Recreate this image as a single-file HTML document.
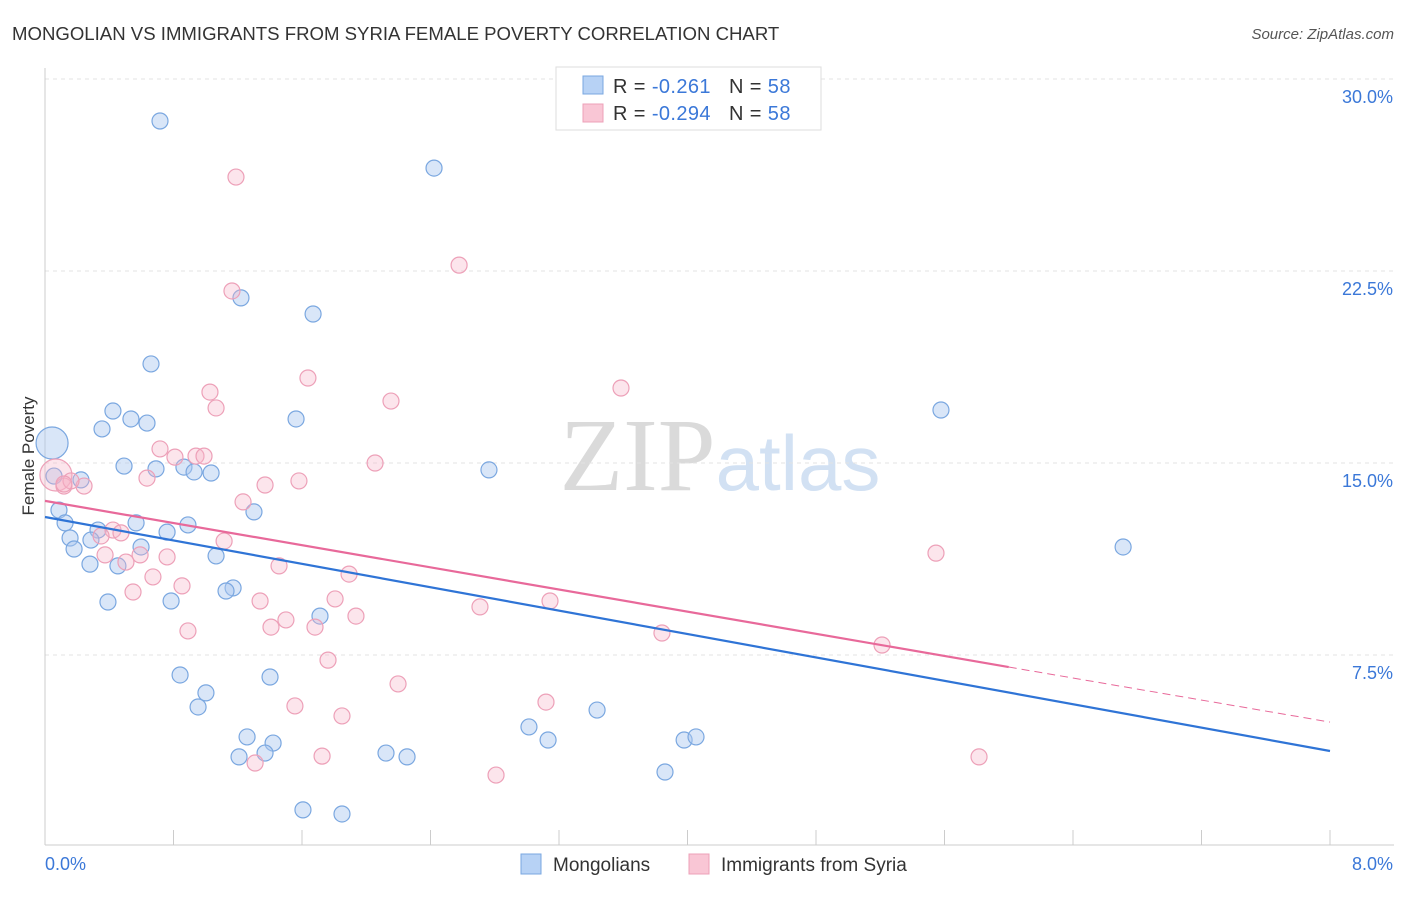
<!DOCTYPE html>
<html><head><meta charset="utf-8"><style>
body{margin:0;background:#fff;font-family:"Liberation Sans",sans-serif}
svg text{font-family:"Liberation Sans",sans-serif}
</style></head><body>
<svg id="chart" width="1406" height="892" xmlns="http://www.w3.org/2000/svg">
<text x="12" y="40" font-size="18.6" fill="#333">MONGOLIAN VS IMMIGRANTS FROM SYRIA FEMALE POVERTY CORRELATION CHART</text>
<text x="1394" y="39" font-size="15" fill="#555" text-anchor="end" font-style="italic">Source: ZipAtlas.com</text>
<text x="720" y="490" font-size="104" text-anchor="middle" fill="#ddd"><tspan font-family="Liberation Serif" fill="#dadada">ZIP</tspan><tspan font-size="78" fill="#d2e1f3">atlas</tspan></text>
<g id="grid"></g><g id="axes"></g><g id="marks"></g>
<text transform="translate(34,456) rotate(-90)" font-size="17" fill="#333" text-anchor="middle">Female Poverty</text>
<g>
<rect x="556" y="67" width="265" height="63" fill="#fff" stroke="#ddd"/>
<rect x="583" y="76" width="20" height="18" fill="#b7d2f5" stroke="#7aa7e0"/>
<rect x="583" y="104" width="20" height="18" fill="#f9c6d5" stroke="#eda0b8"/>
<text x="613" y="93" font-size="20" fill="#333" letter-spacing="0.4">R = <tspan fill="#3b78d8">-0.261</tspan><tspan dx="18">N = </tspan><tspan fill="#3b78d8">58</tspan></text>
<text x="613" y="120" font-size="20" fill="#333" letter-spacing="0.4">R = <tspan fill="#3b78d8">-0.294</tspan><tspan dx="18">N = </tspan><tspan fill="#3b78d8">58</tspan></text>
</g>
<g>
<rect x="521" y="854" width="20" height="20" fill="#b7d2f5" stroke="#7aa7e0"/>
<text x="553" y="871" font-size="19" fill="#333">Mongolians</text>
<rect x="689" y="854" width="20" height="20" fill="#f9c6d5" stroke="#eda0b8"/>
<text x="721" y="871" font-size="19" fill="#333">Immigrants from Syria</text>
</g>
</svg>
<script>
const yTicks=[7.5,15.0,22.5,30.0];
const yTickLabels=["7.5%","15.0%","22.5%","30.0%"];
const xTickCount=10;
const blueX=[0.716,2.422,1.220,1.669,0.660,0.423,0.535,0.635,1.563,0.355,5.578,0.044,0.492,0.691,0.865,0.928,1.034,2.764,0.224,0.087,1.301,0.125,0.567,0.890,0.330,0.760,0.156,0.286,0.598,0.181,1.065,0.280,0.454,6.712,1.171,1.127,0.392,0.785,1.712,0.841,1.401,1.002,0.953,3.437,3.013,1.258,3.132,1.420,3.979,4.053,1.370,1.208,2.123,2.254,3.860,1.606,1.849,0.056];
const blueY=[28.36,26.52,21.45,20.82,18.87,17.03,16.72,16.56,16.72,16.33,17.07,15.78,14.88,14.77,14.84,14.65,14.61,14.73,14.34,13.16,13.09,12.66,12.66,12.58,12.38,12.30,12.07,11.99,11.72,11.64,11.37,11.05,10.98,11.72,10.12,10.00,9.57,9.61,9.02,6.72,6.64,6.02,5.47,5.35,4.69,4.30,4.18,4.06,4.18,4.30,3.67,3.52,3.67,3.52,2.93,1.45,1.29,14.49];
const pinkX=[1.189,2.578,1.164,1.637,3.586,1.027,2.154,1.065,0.716,0.809,0.940,0.990,2.055,0.635,1.581,1.370,0.068,0.118,0.243,1.233,0.162,0.423,0.473,0.349,1.115,0.374,0.504,0.592,0.760,1.457,5.547,0.672,0.853,1.893,0.548,1.339,1.806,2.708,3.144,1.500,1.407,1.681,1.936,0.890,3.841,5.211,1.762,2.198,1.556,3.119,1.849,1.308,1.725,2.808,5.815,0.118];
const pinkY=[26.17,22.73,21.72,18.32,17.93,17.77,17.42,17.15,15.55,15.23,15.27,15.27,15.00,14.41,14.30,14.14,14.53,14.10,14.10,13.48,14.30,12.38,12.27,12.15,11.95,11.41,11.13,11.41,11.33,10.98,11.48,10.55,10.20,10.66,9.96,9.61,9.69,9.38,9.61,8.87,8.59,8.59,9.02,8.44,8.36,7.89,7.30,6.37,5.51,5.66,5.12,3.28,3.55,2.81,3.52,14.18];
const blueBig=[11];const pinkBig=[16];
const blueTrend=[12.89,3.75];
const pinkTrend=[13.52,7.03,4.88];const pinkSolidEnd=6.0;
const NS="http://www.w3.org/2000/svg";
const X0=45,X1=1330,YB=847,PPU=192/7.5;
const sx=v=>X0+(v/8)*(X1-X0), sy=v=>YB-v*PPU;
function mk(t,a,p){const e=document.createElementNS(NS,t);for(const k in a)e.setAttribute(k,a[k]);document.getElementById(p).appendChild(e);return e;}
yTicks.forEach((t,i)=>{
 const l=mk('line',{x1:X0,x2:1394,y1:sy(t),y2:sy(t),stroke:'#e3e3e3','stroke-dasharray':'4,4'},'grid');
 
 
 const tx=mk('text',{x:1393,y:sy(t)+24,'font-size':18,fill:'#3b78d8','text-anchor':'end'},'axes');
 tx.textContent=yTickLabels[i];
 
 
});
let a=mk('line',{x1:X0,x2:X0,y1:68,y2:845,stroke:'#ccc'},'axes');

a=mk('line',{x1:X0,x2:1394,y1:845,y2:845,stroke:'#ccc'},'axes');

for(let i=1;i<=xTickCount;i++){const x=X0+i*(X1-X0)/xTickCount;
 const t=mk('line',{x1:x,x2:x,y1:830,y2:845,stroke:'#ccc'},'axes');
 
 }
let t0=mk('text',{x:45,y:870,'font-size':18,fill:'#3b78d8'},'axes');t0.textContent='0.0%';

t0=mk('text',{x:1393,y:870,'font-size':18,fill:'#3b78d8','text-anchor':'end'},'axes');t0.textContent='8.0%';

function pts(X,Y,big,fill,stroke,name){X.forEach((x,i)=>{
 const c=mk('circle',{cx:sx(x),cy:sy(Y[i]),r:big.includes(i)?16:8,fill:fill,stroke:stroke,'stroke-width':1.2},'marks');
 
 });}
pts(blueX,blueY,blueBig,'rgba(170,200,240,0.45)','#7aa7e0','mongolian-point');
pts(pinkX,pinkY,pinkBig,'rgba(245,180,200,0.35)','#eda0b8','syria-point');
let L=mk('line',{x1:sx(0),y1:sy(blueTrend[0]),x2:sx(8),y2:sy(blueTrend[1]),stroke:'#2f74d6','stroke-width':2.2},'marks');

L=mk('line',{x1:sx(0),y1:sy(pinkTrend[0]),x2:sx(pinkSolidEnd),y2:sy(pinkTrend[1]),stroke:'#e8699a','stroke-width':2.2},'marks');

L=mk('line',{x1:sx(pinkSolidEnd),y1:sy(pinkTrend[1]),x2:sx(8),y2:sy(pinkTrend[2]),stroke:'#e8699a','stroke-width':1,'stroke-dasharray':'8,5'},'marks');

</script>
</body></html>
